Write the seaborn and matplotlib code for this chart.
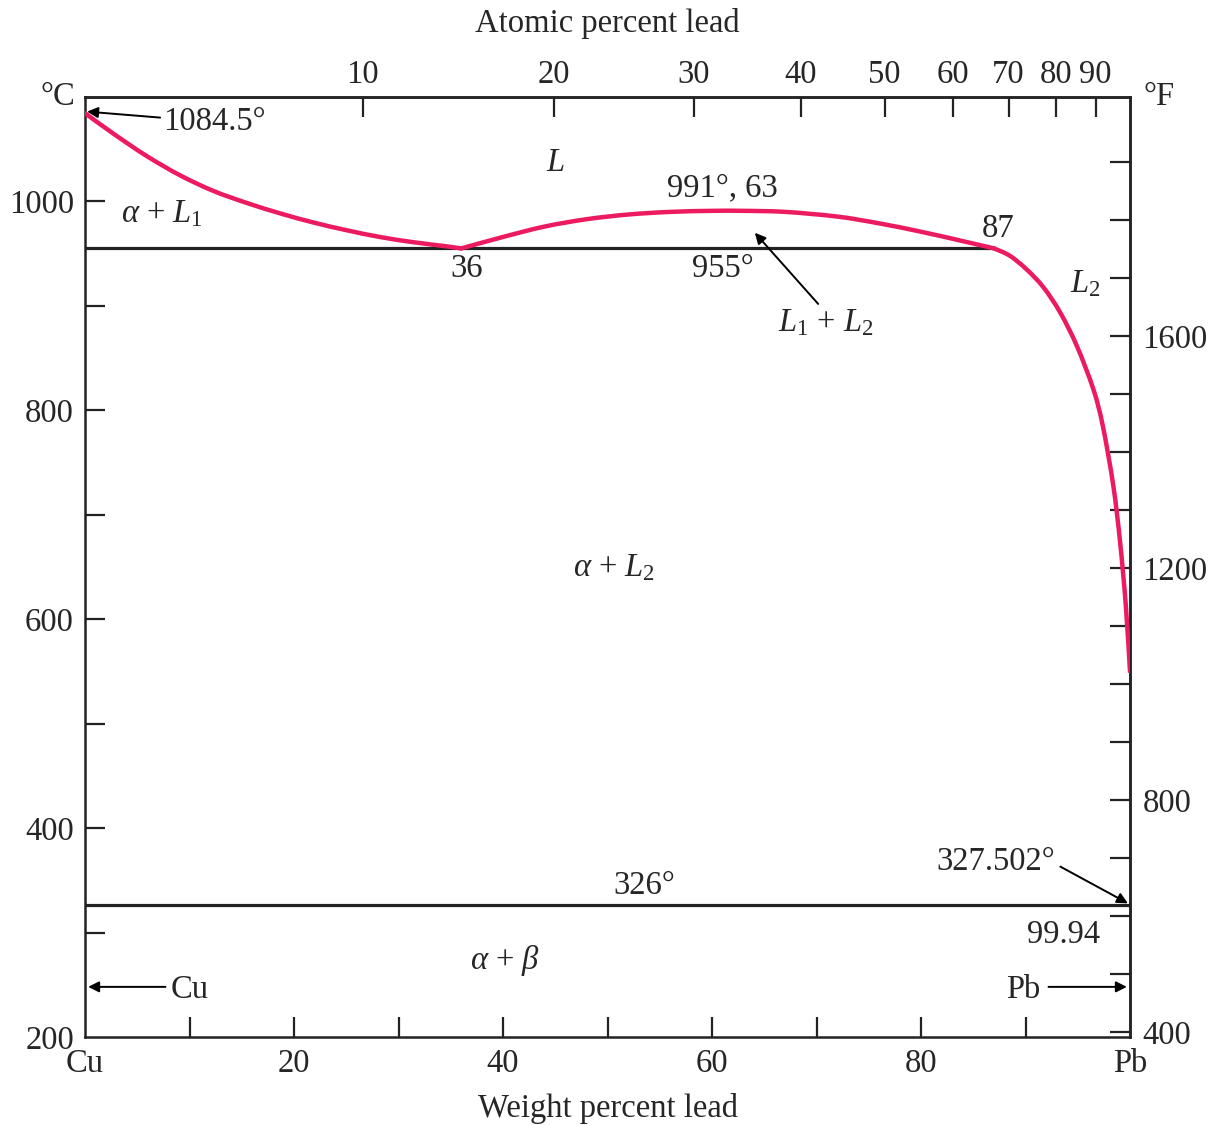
import numpy as np
import pandas as pd
import matplotlib
matplotlib.use("Agg")
import matplotlib.pyplot as plt
from matplotlib.path import Path
from matplotlib.patches import PathPatch
import seaborn as sns

# Cu–Pb phase diagram data (weight percent Pb, temperature in °C)
cu_liquidus_wt = [0, 2.7, 5.9, 9.1, 12.3, 15.5, 18.7, 21.8, 25, 28.2, 31.4, 34.6, 36]
cu_liquidus_T = [1084.5, 1065, 1043.5, 1025, 1010, 998.5, 988.5, 980, 972.5, 966, 961, 957, 955]

gap_wt = [36, 40, 44, 48, 52, 56, 60, 63, 67, 72, 76, 80, 84, 87]
gap_T = [955, 966, 976, 983, 987.5, 990, 991, 991, 990, 985.5, 979, 971, 962, 955]

pb_liquidus_wt = [87, 88.5, 90.1, 91.7, 93.3, 94.9, 96.5, 97.4, 98.4, 99.05, 99.6, 100]
pb_liquidus_T = [955, 948, 935, 918, 894, 862, 820, 785, 728, 674, 613, 550]

monotectic_T = 955
monotectic_wt = [0, 87]
eutectic_T = 326
eutectic_wt = [0, 100]

wt_ticks = [0, 20, 40, 60, 80, 100]
wt_labels = ["Cu", "20", "40", "60", "80", "Pb"]
wt_minor = [10, 30, 50, 70, 90]
at_ticks = [10, 20, 30, 40, 50, 60, 70, 80, 90]
c_ticks = [200, 400, 600, 800, 1000]
c_minor = [300, 500, 700, 900]
f_ticks = [400, 800, 1200, 1600]
f_minor = [500, 600, 700, 900, 1000, 1100, 1300, 1400, 1500, 1700, 1800, 1900]

M_PB, M_CU = 207.2, 63.55

sns.set_theme(style="ticks")
plt.rcParams["font.family"] = ["Liberation Serif", "DejaVu Serif"]
plt.rcParams["mathtext.fontset"] = "custom"
plt.rcParams["mathtext.rm"] = "Liberation Serif"
plt.rcParams["mathtext.it"] = "Liberation Serif:italic"
plt.rcParams["mathtext.bf"] = "Liberation Serif:bold"

FS = 23.5
PINK = "#EC1A5E"
LINE = "#222222"

fig = plt.figure(figsize=(12.23, 11.25), dpi=100)
ax = fig.add_axes([85 / 1223, 1 - 1037 / 1125, (1130 - 85) / 1223, (1037 - 97) / 1125])


def smooth_curve(xs, ys):
    """Catmull-Rom curve through the given points, as cubic Bezier segments."""
    p = np.column_stack([xs, ys]).astype(float)
    ext = np.vstack([p[0], p, p[-1]])
    verts = [tuple(p[0])]
    codes = [Path.MOVETO]
    for i in range(1, len(ext) - 2):
        p0, p1, p2, p3 = ext[i - 1], ext[i], ext[i + 1], ext[i + 2]
        c1 = p1 + (p2 - p0) / 6
        c2 = p2 - (p3 - p1) / 6
        verts += [tuple(c1), tuple(c2), tuple(p2)]
        codes += [Path.CURVE4] * 3
    return Path(verts, codes)


for xs, ys in [(cu_liquidus_wt, cu_liquidus_T), (gap_wt, gap_T),
               (pb_liquidus_wt, pb_liquidus_T)]:
    ax.add_patch(PathPatch(smooth_curve(xs, ys), facecolor="none", edgecolor=PINK,
                           lw=3.2, zorder=4, capstyle="round", joinstyle="round"))

lines = pd.DataFrame({
    "wt": monotectic_wt + eutectic_wt,
    "T": [monotectic_T] * 2 + [eutectic_T] * 2,
    "iso": ["monotectic"] * 2 + ["eutectic"] * 2,
})
sns.lineplot(data=lines, x="wt", y="T", units="iso", estimator=None, sort=False,
             ax=ax, color=LINE, lw=2.3, zorder=3)

ax.set_xlim(0, 100)
ax.set_ylim(200, 1100)
ax.set_xlabel("")
ax.set_ylabel("")

ax.set_xticks(wt_ticks)
ax.set_xticklabels(wt_labels)
ax.set_xticks(wt_minor, minor=True)
ax.set_yticks(c_ticks)
ax.set_yticks(c_minor, minor=True)

for sp in ax.spines.values():
    sp.set_visible(True)
    sp.set_linewidth(1.8)
    sp.set_color(LINE)

tick_kw = dict(direction="in", length=14.4, width=1.6, color=LINE, labelsize=FS)
ax.tick_params(axis="both", which="both", **tick_kw)
ax.tick_params(axis="x", which="both", pad=8, top=False)
ax.tick_params(axis="y", which="both", pad=8, right=False)

# no tick marks in the corners of the frame
xt = ax.xaxis.get_major_ticks()
xt[0].tick1line.set_visible(False)
xt[-1].tick1line.set_visible(False)
ax.yaxis.get_major_ticks()[0].tick1line.set_visible(False)


def wt2at(w):
    w = np.clip(np.asarray(w, dtype=float), 1e-9, 100 - 1e-9)
    return 100 * (w / M_PB) / (w / M_PB + (100 - w) / M_CU)


def at2wt(a):
    a = np.clip(np.asarray(a, dtype=float), 1e-9, 100 - 1e-9)
    return 100 * (a * M_PB) / (a * M_PB + (100 - a) * M_CU)


top = ax.secondary_xaxis("top", functions=(wt2at, at2wt))
top.set_xticks(at_ticks)
top.set_xticklabels([str(t) for t in at_ticks])
top.tick_params(axis="x", which="both", pad=5, **tick_kw)
top.set_xlabel("Atomic percent lead", fontsize=FS, labelpad=20)
top.spines["top"].set_linewidth(1.8)


def c2f(c):
    return np.asarray(c, dtype=float) * 9 / 5 + 32


def f2c(f):
    return (np.asarray(f, dtype=float) - 32) * 5 / 9


right = ax.secondary_yaxis("right", functions=(c2f, f2c))
right.set_yticks(f_ticks)
right.set_yticks(f_minor, minor=True)
right.tick_params(axis="y", which="both", pad=9, **tick_kw)
right.spines["right"].set_linewidth(1.8)

ax.set_xlabel("Weight percent lead", fontsize=FS, labelpad=10)

# unit labels
ax.text(-2.6, 1100, "°C", fontsize=FS, ha="center", va="center", clip_on=False)
ax.text(102.8, 1100, "°F", fontsize=FS, ha="center", va="center", clip_on=False)

txt = dict(fontsize=FS, ha="center", va="center", zorder=6)
arrow = dict(arrowstyle="-|>", color="black", lw=1.4, mutation_scale=16,
             shrinkA=0, shrinkB=0)

ax.annotate("1084.5°", xy=(0.2, 1086), xytext=(7.5, 1076),
            fontsize=FS, ha="left", va="center", arrowprops=arrow)
ax.text(45, 1037, "$L$", **txt)
ax.text(61, 1013, "991°, 63", **txt)
ax.text(7.4, 988, r"$\alpha$ + $L_1$", **txt)
ax.text(36.5, 936, "36", **txt)
ax.text(61, 936, "955°", **txt)
ax.text(87.4, 974, "87", **txt)
ax.text(95.7, 921, "$L_2$", **txt)
ax.annotate("$L_1$ + $L_2$", xy=(64.1, 970), xytext=(70.9, 884),
            arrowprops=dict(arrow, relpos=(0.45, 1.0)), **txt)
ax.text(50.6, 649, r"$\alpha$ + $L_2$", **txt)
ax.annotate("327.502°", xy=(99.8, 328), xytext=(87.2, 367.5),
            arrowprops=dict(arrow, relpos=(1.04, 0.35)), **txt)
ax.text(53.5, 344.5, "326°", **txt)
ax.text(93.6, 297.6, "99.94", **txt)
ax.text(40.2, 273.7, r"$\alpha$ + $\beta$", **txt)

ax.annotate("", xy=(0.3, 248), xytext=(7.7, 248), arrowprops=arrow)
ax.text(10.0, 245, "Cu", **txt)
ax.annotate("", xy=(99.7, 248), xytext=(92.2, 248), arrowprops=arrow)
ax.text(89.8, 245, "Pb", **txt)

fig.savefig("out.png", dpi=100, facecolor="white")
